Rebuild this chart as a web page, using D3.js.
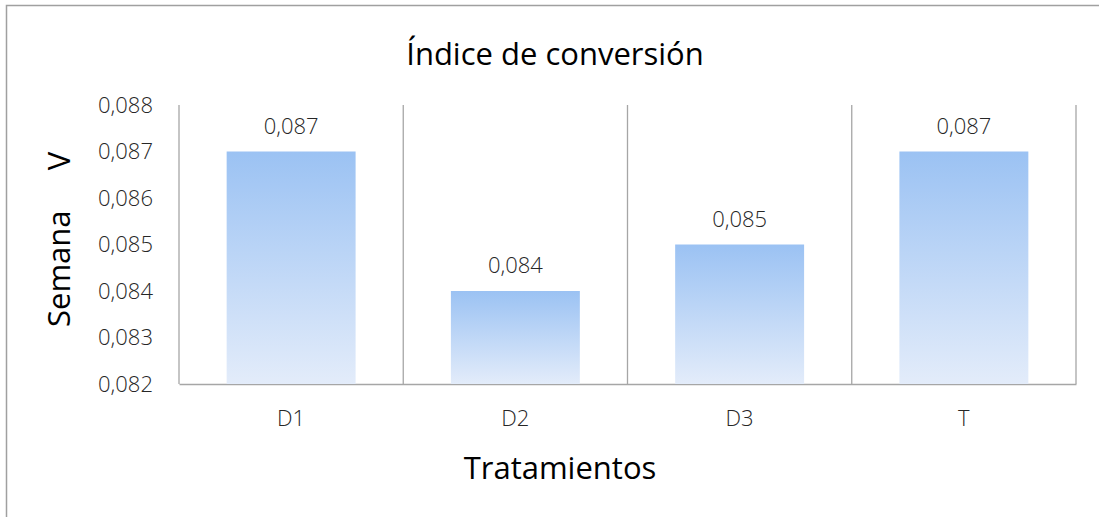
<!DOCTYPE html>
<html>
<head>
<meta charset="utf-8">
<script src="https://cdn.jsdelivr.net/npm/d3@7"></script>
<style>
  body { margin: 0; background: #fff; }
  text { font-family: "Open Sans", "Noto Sans", sans-serif; fill: #262626; }
</style>
</head>
<body>
<svg id="chart" width="1099" height="517"></svg>
<script>
// data
var categories = ["D1", "D2", "D3", "T"];
var values = [0.087, 0.084, 0.085, 0.087];
var yTicks = [0.082, 0.083, 0.084, 0.085, 0.086, 0.087, 0.088];

var svg = d3.select("#chart"),
    margin = {top: 105, right: 23, bottom: 133, left: 179},
    width = 1099 - margin.left - margin.right,
    height = 517 - margin.top - margin.bottom;

var fmt = function(d) { return d3.format(".3f")(d).replace(".", ","); };

// outer chart frame
svg.append("rect")
  .attr("x", 6.5).attr("y", 5.5)
  .attr("width", 1200).attr("height", 600)
  .attr("fill", "none").attr("stroke", "#a0a0a0").attr("stroke-width", 1.5);

// bar gradient
var grad = svg.append("defs").append("linearGradient")
  .attr("id", "barfill").attr("x1", 0).attr("y1", 0).attr("x2", 0).attr("y2", 1);
grad.append("stop").attr("offset", "0%").attr("stop-color", "#9bc2f3");
grad.append("stop").attr("offset", "100%").attr("stop-color", "#e3ecfa");

var x = d3.scaleBand().domain(categories).range([0, width]).padding(0),
    y = d3.scaleLinear().domain([0.082, 0.088]).range([height, 0]);

var g = svg.append("g")
  .attr("transform", "translate(" + margin.left + "," + margin.top + ")");

// vertical separators between categories
var seps = categories.map(function(d) { return x(d); }).concat([width]);
g.selectAll("line.sep")
  .data(seps)
  .enter().append("line")
  .attr("class", "sep")
  .attr("x1", function(d) { return d; }).attr("x2", function(d) { return d; })
  .attr("y1", 0).attr("y2", height)
  .attr("stroke", "#a6a6a6").attr("stroke-width", 1.3);

// y axis labels
g.append("g")
  .call(d3.axisLeft(y).tickValues(yTicks).tickFormat(fmt).tickSize(0).tickPadding(26))
  .call(function(a) { a.select(".domain").remove(); })
  .selectAll("text")
  .style("font-size", "22px").style("font-family", "Open Sans").style("font-weight", 300)
  .attr("fill", "#262626");

// x axis
g.append("g")
  .attr("transform", "translate(0," + height + ")")
  .call(d3.axisBottom(x).tickSize(0).tickPadding(26))
  .call(function(a) { a.select(".domain").attr("stroke", "#a6a6a6").attr("stroke-width", 1.5); })
  .selectAll("text")
  .style("font-size", "22px").style("font-family", "Open Sans").style("font-weight", 300)
  .attr("fill", "#262626");

// bars
var bw = x.bandwidth() * 0.575;
g.selectAll("rect.bar")
  .data(values)
  .enter().append("rect")
  .attr("class", "bar")
  .attr("x", function(d, i) { return x(categories[i]) + (x.bandwidth() - bw) / 2; })
  .attr("y", function(d) { return y(d); })
  .attr("width", bw)
  .attr("height", function(d) { return height - y(d); })
  .attr("fill", "url(#barfill)");

// value labels
g.selectAll("text.val")
  .data(values)
  .enter().append("text")
  .attr("class", "val")
  .attr("x", function(d, i) { return x(categories[i]) + x.bandwidth() / 2; })
  .attr("y", function(d) { return y(d) - 18; })
  .attr("text-anchor", "middle")
  .style("font-size", "22px").style("font-weight", 300)
  .text(fmt);

// title
svg.append("text")
  .attr("x", 555).attr("y", 65)
  .attr("text-anchor", "middle")
  .style("font-size", "31px").style("fill", "#000")
  .text("Índice de conversión");

// x axis title
svg.append("text")
  .attr("x", 560).attr("y", 479)
  .attr("text-anchor", "middle")
  .style("font-size", "31px").style("fill", "#000")
  .text("Tratamientos");

// y axis title
svg.append("text")
  .attr("transform", "translate(70,327) rotate(-90)")
  .attr("text-anchor", "start")
  .style("font-size", "31px").style("fill", "#000")
  .style("white-space", "pre")
  .text("Semana     V");
</script>
</body>
</html>
